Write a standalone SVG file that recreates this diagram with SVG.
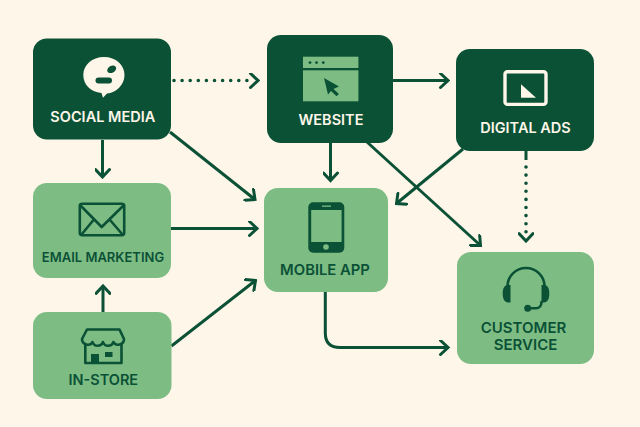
<svg xmlns="http://www.w3.org/2000/svg" width="640" height="427" viewBox="0 0 640 427">
<defs>
<style>
.dark{fill:#0b5136}
.light{fill:#7dbd84}
.cream{fill:#fdf6e9}
text{font-family:"Inter","Liberation Sans",sans-serif;font-weight:600;font-size:14.5px;text-anchor:middle}
.td{fill:#fdf6e9}
.tl{fill:#0b5136}
.c{fill:none;stroke:#0b5136;stroke-width:3}
.h{fill:none;stroke:none}
.d{stroke-dasharray:0 8.1;stroke-linecap:round;stroke-width:3.6}
.i{fill:none;stroke:#0b5136;stroke-width:2.6;stroke-linejoin:round;stroke-linecap:round}
</style>
<marker id="a" viewBox="0 0 12 16" refX="10" refY="8" markerWidth="12" markerHeight="16" markerUnits="userSpaceOnUse" orient="auto"><path d="M2.500 1L10 8L2.500 15" fill="none" stroke="#0b5136" stroke-width="3" stroke-linecap="round"/></marker>
</defs>
<rect width="640" height="427" fill="#fdf6e9"/>
<g id="connectors">
<path class="c d" d="M174 80.500H250"/>
<path class="h" marker-end="url(#a)" d="M250 80.500H258"/>
<path class="c" marker-end="url(#a)" d="M102.500 140V177"/>
<path class="c" marker-end="url(#a)" d="M170 132L255 199.500"/>
<path class="c" marker-end="url(#a)" d="M393 80.500H448"/>
<path class="c" marker-end="url(#a)" d="M330.500 143V180.500"/>
<path class="c" marker-end="url(#a)" d="M367 142L480.500 245.500"/>
<path class="c" marker-end="url(#a)" d="M463 149L396.500 203.500"/>
<path class="c" d="M526 151V160"/>
<path class="c d" d="M526 167V232"/>
<path class="h" marker-end="url(#a)" d="M526 232V241"/>
<path class="c" marker-end="url(#a)" d="M171 228.500H257"/>
<path class="c" marker-end="url(#a)" d="M103 312V286"/>
<path class="c" marker-end="url(#a)" d="M171.500 346L255.500 280.500"/>
<path class="c" marker-end="url(#a)" d="M325.300 292V333Q325.300 347.500 340 347.500H448"/>
</g>
<g id="social-media">
<rect class="dark" x="33" y="38.500" width="138" height="101" rx="14"/>
<path class="cream" d="M104 57C116 57 124.500 65 124.500 75C124.500 85 116 93 107 93.500L103 97.800L101.500 93C90 92 83.300 84 83.300 75C83.300 65 92 57 104 57Z"/>
<rect class="dark" x="95.500" y="77.500" width="16.500" height="6" rx="3"/>
<ellipse class="dark" cx="111.700" cy="69.300" rx="4.800" ry="3.400" transform="rotate(-30 111.700 69.300)"/>
<text class="td" x="102.800" y="121.500">SOCIAL MEDIA</text>
</g>
<g id="website">
<rect class="dark" x="267" y="35" width="126" height="108" rx="14"/>
<rect class="light" x="303" y="56.700" width="55.400" height="11.300"/>
<rect class="light" x="303" y="70.300" width="55.400" height="31"/>
<circle class="dark" cx="310" cy="62.600" r="1.400"/><circle class="dark" cx="316.500" cy="62.600" r="1.400"/><circle class="dark" cx="323.300" cy="62.600" r="1.400"/>
<path class="dark" d="M324 78L339 86.500L333.500 89L339 94L336.500 96.200L331 91L328 94.500Z"/>
<text class="td" x="331" y="125">WEBSITE</text>
</g>
<g id="digital-ads">
<rect class="dark" x="456" y="49" width="138" height="102" rx="14"/>
<rect x="505" y="71.700" width="41" height="32.700" rx="2.500" fill="none" stroke="#fdf6e9" stroke-width="3.400"/>
<path class="cream" d="M521 84.300L536 97.700H521Z"/>
<text class="td" x="525.500" y="132.500">DIGITAL ADS</text>
</g>
<g id="email-marketing">
<rect class="light" x="33" y="183" width="138" height="95" rx="14"/>
<rect class="i" x="79.800" y="203.800" width="44.400" height="31.400" rx="2.500" stroke-width="3"/>
<path class="i" d="M80 205L101.700 227L124 205M81.500 234.500L93.500 220M122.500 234.500L110 220"/>
<text class="tl" x="103" y="262" style="font-size:13px">EMAIL MARKETING</text>
</g>
<g id="in-store">
<rect class="light" x="33" y="312" width="138.500" height="87" rx="14"/>
<path class="i" d="M87 329.500H119.500L124 339C124.300 344.500 116 347 113.500 342C111.500 347 104.500 347 103 342C101 347 94 347 92.500 342C90 347 82 344.500 82 339ZM85.300 344V363H121.500V344"/>
<rect class="dark" x="91" y="354" width="8" height="10"/>
<rect class="dark" x="105" y="352" width="7.500" height="5"/>
<text class="tl" x="103.300" y="385">IN-STORE</text>
</g>
<g id="mobile-app">
<rect class="light" x="264" y="188" width="124" height="104" rx="14"/>
<rect class="dark" x="308.300" y="202.300" width="36" height="50.500" rx="5"/>
<rect class="light" x="311.200" y="210" width="30.400" height="32"/>
<rect class="light" x="322" y="205.500" width="9" height="1.300"/>
<circle class="light" cx="326" cy="247" r="2.800"/>
<text class="tl" x="325" y="275" style="font-size:14.800px">MOBILE APP</text>
</g>
<g id="customer-service">
<rect class="light" x="457" y="252" width="137" height="112" rx="14"/>
<path class="i" d="M507.500 288V286.500A18.500 18.500 0 0 1 544.500 286.500V288" stroke-width="3.200"/>
<path class="dark" d="M510.500 285V302.500H508C504.500 302.500 502.700 299 502.700 293.500C502.700 288 504.500 285 508 285Z"/>
<path class="dark" d="M541.500 285V302.500H544C547.500 302.500 549.300 299 549.300 293.500C549.300 288 547.500 285 544 285Z"/>
<path class="i" d="M541.500 302C541.500 306 539 308.300 536 308.300H530" stroke-width="2"/>
<circle class="dark" cx="527.700" cy="308.300" r="3.500"/>
<text class="tl" x="523.500" y="333" style="font-size:15px">CUSTOMER</text>
<text class="tl" x="525.500" y="350" style="font-size:15px">SERVICE</text>
</g>
</svg>
